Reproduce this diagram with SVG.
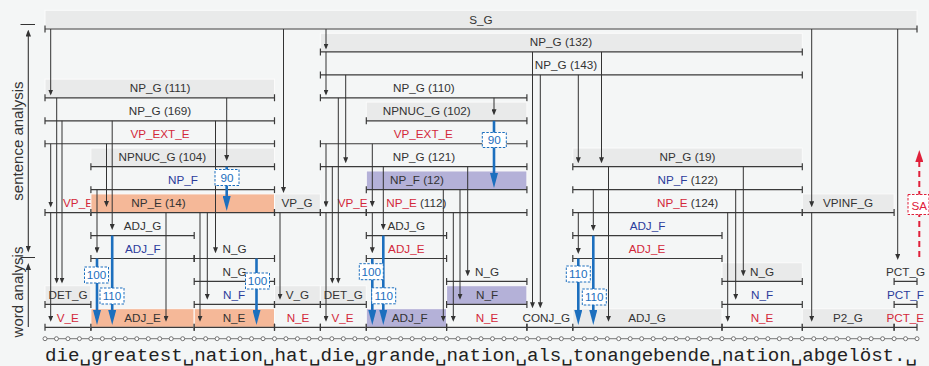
<svg xmlns="http://www.w3.org/2000/svg" width="929" height="366" viewBox="0 0 929 366">
<defs>
<style>
.t{font-family:"Liberation Sans",Arial,sans-serif;font-size:11.7px;text-anchor:middle;fill:#333}
.r{fill:#d3283a}
.b{fill:#2b3c9b}
.sp{stroke:#3a3a3a;stroke-width:1.2;fill:none}
.g{fill:#e9eaea;stroke:#fbfbfb;stroke-width:1}
.o{fill:#f5b898;stroke:#fbfbfb;stroke-width:1}
.p{fill:#b4b1d8;stroke:#fbfbfb;stroke-width:1}
.c{stroke:#333;stroke-width:1;fill:none;marker-end:url(#ah)}
.bl{stroke:#1c6fbe;stroke-width:2.6;fill:none;marker-end:url(#bh)}
.bx{fill:#fff;stroke:#1c6fbe;stroke-width:1;stroke-dasharray:2.5 1.5}
.bt{font-family:"Liberation Sans",Arial,sans-serif;font-size:11.7px;text-anchor:middle;fill:#1c6fbe}
.ax{font-family:"Liberation Sans",Arial,sans-serif;font-size:15px;text-anchor:middle;fill:#333}
.dot{fill:#fff;stroke:#666;stroke-width:0.9}
</style>
<marker id="ah" viewBox="0 0 6 5" refX="4" refY="2.5" markerWidth="6" markerHeight="5" markerUnits="userSpaceOnUse" orient="auto"><path d="M0,0L6,2.5L0,5z" fill="#333"/></marker>
<marker id="axh" viewBox="0 0 7 5.4" refX="5" refY="2.7" markerWidth="7" markerHeight="5.4" markerUnits="userSpaceOnUse" orient="auto-start-reverse"><path d="M0,0L7,2.7L0,5.4z" fill="#333"/></marker>
<marker id="bh" viewBox="0 0 15 8" refX="8" refY="4" markerWidth="15" markerHeight="8" markerUnits="userSpaceOnUse" orient="auto"><path d="M0,0L15,4L0,8z" fill="#1c6fbe"/></marker>
<marker id="rh" viewBox="0 0 12 8" refX="6" refY="4" markerWidth="12" markerHeight="8" markerUnits="userSpaceOnUse" orient="auto"><path d="M0,0L12,4L0,8z" fill="#e0203a"/></marker>
</defs>
<rect x="0" y="0" width="929" height="366" fill="#f4f6f6"/>

<g id="axis">
<path d="M20.5 24.5H35M20.5 257.5H35" stroke="#333" stroke-width="1.2"/>
<line x1="28.3" y1="31.5" x2="28.3" y2="250.5" stroke="#333" stroke-width="1.1" marker-start="url(#axh)" marker-end="url(#axh)"/>
<line x1="28.3" y1="327" x2="28.3" y2="265" stroke="#333" stroke-width="1.1" marker-end="url(#axh)"/>
<text class="ax" transform="translate(23.3,141) rotate(-90)">sentence analysis</text>
<text class="ax" transform="translate(23.3,292) rotate(-90)">word analysis</text>
</g>

<g id="nodes">
<g id="n_S_G"><rect class="g" x="45" y="10.3" width="872" height="18.7"/><path class="sp" d="M45 29H917M45 25.5V32.5M917 25.5V32.5"/><text class="t" x="481" y="23.5">S_G</text></g>
<g id="n_NP_G132"><rect class="g" x="320.4" y="33.25" width="481.9" height="18.7"/><path class="sp" d="M320.4 51.95H802.3M320.4 48.45V55.45M802.3 48.45V55.45"/><text class="t" x="561" y="46.45">NP_G (132)</text></g>
<g id="n_NP_G143"><path class="sp" d="M320.4 74.9H802.3M320.4 71.4V78.4M802.3 71.4V78.4"/><text class="t" x="566" y="69.4">NP_G (143)</text></g>
<g id="n_NP_G111"><rect class="g" x="45" y="79.15" width="229.5" height="18.7"/><path class="sp" d="M45 97.85H274.5M45 94.35V101.35M274.5 94.35V101.35"/><text class="t" x="160" y="92.35">NP_G (111)</text></g>
<g id="n_NP_G110"><path class="sp" d="M320.4 97.85H526.9M320.4 94.35V101.35M526.9 94.35V101.35"/><text class="t" x="423.8" y="92.35">NP_G (110)</text></g>
<g id="n_NP_G169"><path class="sp" d="M45 120.8H274.5M45 117.3V124.3M274.5 117.3V124.3"/><text class="t" x="160" y="115.3">NP_G (169)</text></g>
<g id="n_NPNUC_G102"><rect class="g" x="366.3" y="102.1" width="160.6" height="18.7"/><path class="sp" d="M366.3 120.8H526.9M366.3 117.3V124.3M526.9 117.3V124.3"/><text class="t" x="426.7" y="115.3">NPNUC_G (102)</text></g>
<g id="n_VP_EXT_E1"><path class="sp" d="M45 143.75H274.5M45 140.25V147.25M274.5 140.25V147.25"/><text class="t r" x="160" y="138.25">VP_EXT_E</text></g>
<g id="n_VP_EXT_E2"><path class="sp" d="M320.4 143.75H526.9M320.4 140.25V147.25M526.9 140.25V147.25"/><text class="t r" x="423.3" y="138.25">VP_EXT_E</text></g>
<g id="n_NPNUC_G104"><rect class="g" x="90.9" y="148" width="183.6" height="18.7"/><path class="sp" d="M90.9 166.7H274.5M90.9 163.2V170.2M274.5 163.2V170.2"/><text class="t" x="162.3" y="161.2">NPNUC_G (104)</text></g>
<g id="n_NP_G121"><path class="sp" d="M320.4 166.7H526.9M320.4 163.2V170.2M526.9 163.2V170.2"/><text class="t" x="424" y="161.2">NP_G (121)</text></g>
<g id="n_NP_G19"><rect class="g" x="572.8" y="148" width="229.5" height="18.7"/><path class="sp" d="M572.8 166.7H802.3M572.8 163.2V170.2M802.3 163.2V170.2"/><text class="t" x="687.5" y="161.2">NP_G (19)</text></g>
<g id="n_NP_F1"><path class="sp" d="M90.9 189.65H274.5M90.9 186.15V193.15M274.5 186.15V193.15"/><text class="t b" x="183" y="184.15">NP_F</text></g>
<g id="n_NP_F12"><rect class="p" x="366.3" y="170.95" width="160.6" height="18.7"/><path class="sp" d="M366.3 189.65H526.9M366.3 186.15V193.15M526.9 186.15V193.15"/><text class="t" x="417" y="184.15">NP_F (12)</text></g>
<g id="n_NP_F122"><path class="sp" d="M572.8 189.65H802.3M572.8 186.15V193.15M802.3 186.15V193.15"/><text class="t" x="687.8" y="184.15"><tspan class="b">NP_F</tspan> (122)</text></g>
<g id="n_VP_E1"><path class="sp" d="M45 212.6H90.9M45 209.1V216.1M90.9 209.1V216.1"/><text class="t r" x="78" y="207.1">VP_E</text></g>
<g id="n_NP_E14"><rect class="o" x="90.9" y="193.9" width="183.6" height="18.7"/><path class="sp" d="M90.9 212.6H274.5M90.9 209.1V216.1M274.5 209.1V216.1"/><text class="t" x="158.5" y="207.1">NP_E (14)</text></g>
<g id="n_VP_G"><rect class="g" x="274.5" y="193.9" width="45.9" height="18.7"/><path class="sp" d="M274.5 212.6H320.4M274.5 209.1V216.1M320.4 209.1V216.1"/><text class="t" x="297" y="207.1">VP_G</text></g>
<g id="n_VP_E2"><path class="sp" d="M320.4 212.6H366.3M320.4 209.1V216.1M366.3 209.1V216.1"/><text class="t r" x="352.7" y="207.1">VP_E</text></g>
<g id="n_NP_E112"><path class="sp" d="M366.3 212.6H526.9M366.3 209.1V216.1M526.9 209.1V216.1"/><text class="t" x="416.3" y="207.1"><tspan class="r">NP_E</tspan> (112)</text></g>
<g id="n_NP_E124"><path class="sp" d="M572.8 212.6H802.3M572.8 209.1V216.1M802.3 209.1V216.1"/><text class="t" x="687.5" y="207.1"><tspan class="r">NP_E</tspan> (124)</text></g>
<g id="n_VPINF_G"><rect class="g" x="802.3" y="193.9" width="91.8" height="18.7"/><path class="sp" d="M802.3 212.6H894.1M802.3 209.1V216.1M894.1 209.1V216.1"/><text class="t" x="848" y="207.1">VPINF_G</text></g>
<g id="n_ADJ_G1"><path class="sp" d="M90.9 235.55H194.2M90.9 232.05V239.05M194.2 232.05V239.05"/><text class="t" x="142.5" y="230.05">ADJ_G</text></g>
<g id="n_ADJ_G2"><path class="sp" d="M366.3 235.55H446.6M366.3 232.05V239.05M446.6 232.05V239.05"/><text class="t" x="406.3" y="230.05">ADJ_G</text></g>
<g id="n_ADJ_F3"><path class="sp" d="M572.8 235.55H722M572.8 232.05V239.05M722 232.05V239.05"/><text class="t b" x="647.5" y="230.05">ADJ_F</text></g>
<g id="n_ADJ_F1"><path class="sp" d="M90.9 258.5H194.2M90.9 255V262M194.2 255V262"/><text class="t b" x="142.8" y="253">ADJ_F</text></g>
<g id="n_N_G1"><path class="sp" d="M194.2 258.5H274.5M194.2 255V262M274.5 255V262"/><text class="t" x="234.5" y="253">N_G</text></g>
<g id="n_ADJ_E2"><path class="sp" d="M366.3 258.5H446.6M366.3 255V262M446.6 255V262"/><text class="t r" x="406.3" y="253">ADJ_E</text></g>
<g id="n_ADJ_E3"><path class="sp" d="M572.8 258.5H722M572.8 255V262M722 255V262"/><text class="t r" x="647" y="253">ADJ_E</text></g>
<g id="n_N_G2"><path class="sp" d="M194.2 281.45H274.5M194.2 277.95V284.95M274.5 277.95V284.95"/><text class="t" x="234.5" y="275.95">N_G</text></g>
<g id="n_N_G3"><path class="sp" d="M446.6 281.45H526.9M446.6 277.95V284.95M526.9 277.95V284.95"/><text class="t" x="487" y="275.95">N_G</text></g>
<g id="n_N_G4"><rect class="g" x="722" y="262.75" width="80.3" height="18.7"/><path class="sp" d="M722 281.45H802.3M722 277.95V284.95M802.3 277.95V284.95"/><text class="t" x="762" y="275.95">N_G</text></g>
<g id="n_PCT_G"><path class="sp" d="M894.1 281.45H917M894.1 277.95V284.95M917 277.95V284.95"/><text class="t" x="905.5" y="275.95">PCT_G</text></g>
<g id="n_DET_G1"><rect class="g" x="45" y="285.7" width="45.9" height="18.7"/><path class="sp" d="M45 304.4H90.9M45 300.9V307.9M90.9 300.9V307.9"/><text class="t" x="68" y="298.9">DET_G</text></g>
<g id="n_N_F1"><path class="sp" d="M194.2 304.4H274.5M194.2 300.9V307.9M274.5 300.9V307.9"/><text class="t b" x="234" y="298.9">N_F</text></g>
<g id="n_V_G"><rect class="g" x="274.5" y="285.7" width="45.9" height="18.7"/><path class="sp" d="M274.5 304.4H320.4M274.5 300.9V307.9M320.4 300.9V307.9"/><text class="t" x="297.5" y="298.9">V_G</text></g>
<g id="n_DET_G2"><rect class="g" x="320.4" y="285.7" width="45.9" height="18.7"/><path class="sp" d="M320.4 304.4H366.3M320.4 300.9V307.9M366.3 300.9V307.9"/><text class="t" x="343.3" y="298.9">DET_G</text></g>
<g id="n_N_F2"><rect class="p" x="446.6" y="285.7" width="80.3" height="18.7"/><path class="sp" d="M446.6 304.4H526.9M446.6 300.9V307.9M526.9 300.9V307.9"/><text class="t" x="487" y="298.9">N_F</text></g>
<g id="n_N_F3"><path class="sp" d="M722 304.4H802.3M722 300.9V307.9M802.3 300.9V307.9"/><text class="t b" x="762" y="298.9">N_F</text></g>
<g id="n_PCT_F"><path class="sp" d="M894.1 304.4H917M894.1 300.9V307.9M917 300.9V307.9"/><text class="t b" x="905.5" y="298.9">PCT_F</text></g>
<g id="n_V_E1"><path class="sp" d="M45 327.35H90.9M45 323.85V330.85M90.9 323.85V330.85"/><text class="t r" x="67.8" y="321.85">V_E</text></g>
<g id="n_ADJ_E1"><rect class="o" x="90.9" y="308.65" width="103.3" height="18.7"/><path class="sp" d="M90.9 327.35H194.2M90.9 323.85V330.85M194.2 323.85V330.85"/><text class="t" x="142.5" y="321.85">ADJ_E</text></g>
<g id="n_N_E1"><rect class="o" x="194.2" y="308.65" width="80.3" height="18.7"/><path class="sp" d="M194.2 327.35H274.5M194.2 323.85V330.85M274.5 323.85V330.85"/><text class="t" x="234" y="321.85">N_E</text></g>
<g id="n_N_E2"><path class="sp" d="M274.5 327.35H320.4M274.5 323.85V330.85M320.4 323.85V330.85"/><text class="t r" x="298" y="321.85">N_E</text></g>
<g id="n_V_E2"><path class="sp" d="M320.4 327.35H366.3M320.4 323.85V330.85M366.3 323.85V330.85"/><text class="t r" x="342.5" y="321.85">V_E</text></g>
<g id="n_ADJ_F2"><rect class="p" x="366.3" y="308.65" width="80.3" height="18.7"/><path class="sp" d="M366.3 327.35H446.6M366.3 323.85V330.85M446.6 323.85V330.85"/><text class="t" x="409.7" y="321.85">ADJ_F</text></g>
<g id="n_N_E3"><path class="sp" d="M446.6 327.35H526.9M446.6 323.85V330.85M526.9 323.85V330.85"/><text class="t r" x="487" y="321.85">N_E</text></g>
<g id="n_CONJ_G"><path class="sp" d="M526.9 327.35H572.8M526.9 323.85V330.85M572.8 323.85V330.85"/><text class="t" x="546.3" y="321.85">CONJ_G</text></g>
<g id="n_ADJ_G3"><rect class="g" x="572.8" y="308.65" width="149.2" height="18.7"/><path class="sp" d="M572.8 327.35H722M572.8 323.85V330.85M722 323.85V330.85"/><text class="t" x="647" y="321.85">ADJ_G</text></g>
<g id="n_N_E4"><path class="sp" d="M722 327.35H802.3M722 323.85V330.85M802.3 323.85V330.85"/><text class="t r" x="762" y="321.85">N_E</text></g>
<g id="n_P2_G"><rect class="g" x="802.3" y="308.65" width="91.8" height="18.7"/><path class="sp" d="M802.3 327.35H894.1M802.3 323.85V330.85M894.1 323.85V330.85"/><text class="t" x="848" y="321.85">P2_G</text></g>
<g id="n_PCT_E"><path class="sp" d="M894.1 327.35H917M894.1 323.85V330.85M917 323.85V330.85"/><text class="t r" x="905.3" y="321.85">PCT_E</text></g>
</g>

<g id="connectors">
<line class="c" x1="50.7" y1="29" x2="50.7" y2="93.5"/>
<line class="c" x1="50.7" y1="143.75" x2="50.7" y2="205.5"/>
<line class="c" x1="50.7" y1="212.6" x2="50.7" y2="319.8"/>
<line class="c" x1="56.7" y1="97.85" x2="56.7" y2="281.5"/>
<line class="c" x1="62" y1="120.8" x2="62" y2="281.5"/>
<line class="c" x1="106.5" y1="143.75" x2="106.5" y2="205"/>
<line class="c" x1="112.2" y1="120.8" x2="112.2" y2="228"/>
<line class="c" x1="97" y1="189.65" x2="97" y2="251.3"/>
<line class="c" x1="166" y1="212.6" x2="166" y2="319.8"/>
<line class="c" x1="226.7" y1="97.85" x2="226.7" y2="159"/>
<line class="c" x1="215.5" y1="120.8" x2="215.5" y2="251.3"/>
<line class="c" x1="200" y1="212.6" x2="200" y2="319.8"/>
<line class="c" x1="207.3" y1="212.6" x2="207.3" y2="297.8"/>
<line class="c" x1="283.5" y1="29" x2="283.5" y2="191"/>
<line class="c" x1="280" y1="212.6" x2="280" y2="297.8"/>
<line class="c" x1="326" y1="29" x2="326" y2="47.5"/>
<line class="c" x1="326" y1="51.95" x2="326" y2="93.5"/>
<line class="c" x1="326" y1="143.75" x2="326" y2="205.3"/>
<line class="c" x1="326" y1="212.6" x2="326" y2="319.8"/>
<line class="c" x1="332.3" y1="166.7" x2="332.3" y2="281.5"/>
<line class="c" x1="338.3" y1="97.85" x2="338.3" y2="281.5"/>
<line class="c" x1="345.7" y1="74.9" x2="345.7" y2="161.3"/>
<line class="c" x1="372.3" y1="143.75" x2="372.3" y2="205"/>
<line class="c" x1="372.3" y1="212.6" x2="372.3" y2="251.3"/>
<line class="c" x1="383.3" y1="166.7" x2="383.3" y2="228"/>
<line class="c" x1="443.3" y1="189.65" x2="443.3" y2="319.8"/>
<line class="c" x1="453.3" y1="212.6" x2="453.3" y2="319.8"/>
<line class="c" x1="460" y1="189.65" x2="460" y2="297.8"/>
<line class="c" x1="467.7" y1="166.7" x2="467.7" y2="274.3"/>
<line class="c" x1="494" y1="97.85" x2="494" y2="113.3"/>
<line class="c" x1="532.5" y1="51.95" x2="532.5" y2="306.3"/>
<line class="c" x1="540.3" y1="74.9" x2="540.3" y2="306.3"/>
<line class="c" x1="578.3" y1="74.9" x2="578.3" y2="161.3"/>
<line class="c" x1="601.5" y1="51.95" x2="601.5" y2="161.3"/>
<line class="c" x1="593.3" y1="189.65" x2="593.3" y2="229"/>
<line class="c" x1="578.3" y1="212.6" x2="578.3" y2="252"/>
<line class="c" x1="608.5" y1="166.7" x2="608.5" y2="319.8"/>
<line class="c" x1="727.7" y1="212.6" x2="727.7" y2="319.8"/>
<line class="c" x1="735.7" y1="189.65" x2="735.7" y2="297.8"/>
<line class="c" x1="743.3" y1="166.7" x2="743.3" y2="274.3"/>
<line class="c" x1="811.7" y1="29" x2="811.7" y2="205.3"/>
<line class="c" x1="811.7" y1="212.6" x2="811.7" y2="319.8"/>
<line class="c" x1="897.7" y1="29" x2="897.7" y2="258"/>

<line class="bl" x1="226.7" y1="166.7" x2="226.7" y2="204"/>
<line class="bl" x1="494" y1="120.8" x2="494" y2="181"/>
<line class="bl" x1="97" y1="258.5" x2="97" y2="318"/>
<line class="bl" x1="112.2" y1="235.55" x2="112.2" y2="318"/>
<line class="bl" x1="256.5" y1="258.5" x2="256.5" y2="318"/>
<line class="bl" x1="372.3" y1="258.5" x2="372.3" y2="318"/>
<line class="bl" x1="383.3" y1="235.55" x2="383.3" y2="318"/>
<line class="bl" x1="578.3" y1="258.5" x2="578.3" y2="318"/>
<line class="bl" x1="593.3" y1="235.55" x2="593.3" y2="318"/>

<g id="w1"><rect class="bx" x="215" y="169.5" width="24" height="16"/><text class="bt" x="227" y="181.7">90</text></g>
<g id="w2"><rect class="bx" x="482.3" y="132.5" width="24" height="15"/><text class="bt" x="494.3" y="144.2">90</text></g>
<g id="w3"><rect class="bx" x="84.5" y="267" width="24" height="16"/><text class="bt" x="96.5" y="279.2">100</text></g>
<g id="w4"><rect class="bx" x="100" y="288" width="24" height="16"/><text class="bt" x="112" y="300.2">110</text></g>
<g id="w5"><rect class="bx" x="245.5" y="273" width="24" height="16"/><text class="bt" x="257.5" y="285.2">100</text></g>
<g id="w6"><rect class="bx" x="359.3" y="263.7" width="24" height="16"/><text class="bt" x="371.3" y="275.9">100</text></g>
<g id="w7"><rect class="bx" x="371.7" y="287.8" width="24" height="16"/><text class="bt" x="383.7" y="300">110</text></g>
<g id="w8"><rect class="bx" x="566.3" y="266" width="24" height="16"/><text class="bt" x="578.3" y="278.2">110</text></g>
<g id="w9"><rect class="bx" x="582.3" y="289" width="24" height="16"/><text class="bt" x="594.3" y="301.2">110</text></g>

<g id="sa">
<line x1="919.3" y1="257" x2="919.3" y2="156" stroke="#e0203a" stroke-width="2" stroke-dasharray="6 4" marker-end="url(#rh)"/>
<rect x="908" y="194.5" width="21" height="20" fill="#fff" stroke="#e0203a" stroke-width="1" stroke-dasharray="2.5 1.5"/>
<text class="t" x="919.2" y="209.5" fill="#e0203a" style="fill:#e0203a">SA</text>
</g>
</g>

<g id="chars">
<line x1="45" y1="338.7" x2="917" y2="338.7" stroke="#777" stroke-width="1"/>
<circle class="dot" cx="45" cy="338.7" r="2"/><circle class="dot" cx="56.47" cy="338.7" r="2"/><circle class="dot" cx="67.95" cy="338.7" r="2"/><circle class="dot" cx="79.42" cy="338.7" r="2"/><circle class="dot" cx="90.9" cy="338.7" r="2"/><circle class="dot" cx="102.37" cy="338.7" r="2"/><circle class="dot" cx="113.84" cy="338.7" r="2"/><circle class="dot" cx="125.32" cy="338.7" r="2"/><circle class="dot" cx="136.79" cy="338.7" r="2"/><circle class="dot" cx="148.27" cy="338.7" r="2"/><circle class="dot" cx="159.74" cy="338.7" r="2"/><circle class="dot" cx="171.21" cy="338.7" r="2"/><circle class="dot" cx="182.69" cy="338.7" r="2"/><circle class="dot" cx="194.16" cy="338.7" r="2"/><circle class="dot" cx="205.64" cy="338.7" r="2"/><circle class="dot" cx="217.11" cy="338.7" r="2"/><circle class="dot" cx="228.58" cy="338.7" r="2"/><circle class="dot" cx="240.06" cy="338.7" r="2"/><circle class="dot" cx="251.53" cy="338.7" r="2"/><circle class="dot" cx="263.01" cy="338.7" r="2"/><circle class="dot" cx="274.48" cy="338.7" r="2"/><circle class="dot" cx="285.95" cy="338.7" r="2"/><circle class="dot" cx="297.43" cy="338.7" r="2"/><circle class="dot" cx="308.9" cy="338.7" r="2"/><circle class="dot" cx="320.38" cy="338.7" r="2"/><circle class="dot" cx="331.85" cy="338.7" r="2"/><circle class="dot" cx="343.32" cy="338.7" r="2"/><circle class="dot" cx="354.8" cy="338.7" r="2"/><circle class="dot" cx="366.27" cy="338.7" r="2"/><circle class="dot" cx="377.75" cy="338.7" r="2"/><circle class="dot" cx="389.22" cy="338.7" r="2"/><circle class="dot" cx="400.69" cy="338.7" r="2"/><circle class="dot" cx="412.17" cy="338.7" r="2"/><circle class="dot" cx="423.64" cy="338.7" r="2"/><circle class="dot" cx="435.12" cy="338.7" r="2"/><circle class="dot" cx="446.59" cy="338.7" r="2"/><circle class="dot" cx="458.06" cy="338.7" r="2"/><circle class="dot" cx="469.54" cy="338.7" r="2"/><circle class="dot" cx="481.01" cy="338.7" r="2"/><circle class="dot" cx="492.49" cy="338.7" r="2"/><circle class="dot" cx="503.96" cy="338.7" r="2"/><circle class="dot" cx="515.43" cy="338.7" r="2"/><circle class="dot" cx="526.91" cy="338.7" r="2"/><circle class="dot" cx="538.38" cy="338.7" r="2"/><circle class="dot" cx="549.86" cy="338.7" r="2"/><circle class="dot" cx="561.33" cy="338.7" r="2"/><circle class="dot" cx="572.8" cy="338.7" r="2"/><circle class="dot" cx="584.28" cy="338.7" r="2"/><circle class="dot" cx="595.75" cy="338.7" r="2"/><circle class="dot" cx="607.23" cy="338.7" r="2"/><circle class="dot" cx="618.7" cy="338.7" r="2"/><circle class="dot" cx="630.17" cy="338.7" r="2"/><circle class="dot" cx="641.65" cy="338.7" r="2"/><circle class="dot" cx="653.12" cy="338.7" r="2"/><circle class="dot" cx="664.6" cy="338.7" r="2"/><circle class="dot" cx="676.07" cy="338.7" r="2"/><circle class="dot" cx="687.54" cy="338.7" r="2"/><circle class="dot" cx="699.02" cy="338.7" r="2"/><circle class="dot" cx="710.49" cy="338.7" r="2"/><circle class="dot" cx="721.97" cy="338.7" r="2"/><circle class="dot" cx="733.44" cy="338.7" r="2"/><circle class="dot" cx="744.91" cy="338.7" r="2"/><circle class="dot" cx="756.39" cy="338.7" r="2"/><circle class="dot" cx="767.86" cy="338.7" r="2"/><circle class="dot" cx="779.34" cy="338.7" r="2"/><circle class="dot" cx="790.81" cy="338.7" r="2"/><circle class="dot" cx="802.28" cy="338.7" r="2"/><circle class="dot" cx="813.76" cy="338.7" r="2"/><circle class="dot" cx="825.23" cy="338.7" r="2"/><circle class="dot" cx="836.71" cy="338.7" r="2"/><circle class="dot" cx="848.18" cy="338.7" r="2"/><circle class="dot" cx="859.65" cy="338.7" r="2"/><circle class="dot" cx="871.13" cy="338.7" r="2"/><circle class="dot" cx="882.6" cy="338.7" r="2"/><circle class="dot" cx="894.08" cy="338.7" r="2"/><circle class="dot" cx="905.55" cy="338.7" r="2"/><circle class="dot" cx="917.02" cy="338.7" r="2"/>
<text y="360.5" font-family="'Liberation Mono','DejaVu Sans Mono',monospace" font-size="19.2" fill="#222" x="45 56.47 67.95 79.42 90.9 102.37 113.84 125.32 136.79 148.27 159.74 171.21 182.69 194.16 205.64 217.11 228.58 240.06 251.53 263.01 274.48 285.95 297.43 308.9 320.38 331.85 343.32 354.8 366.27 377.75 389.22 400.69 412.17 423.64 435.12 446.59 458.06 469.54 481.01 492.49 503.96 515.43 526.91 538.38 549.86 561.33 572.8 584.28 595.75 607.23 618.7 630.17 641.65 653.12 664.6 676.07 687.54 699.02 710.49 721.97 733.44 744.91 756.39 767.86 779.34 790.81 802.28 813.76 825.23 836.71 848.18 859.65 871.13 882.6 894.08 905.55">die␣greatest␣nation␣hat␣die␣grande␣nation␣als␣tonangebende␣nation␣abgelöst.␣</text>
</g>
</svg>
